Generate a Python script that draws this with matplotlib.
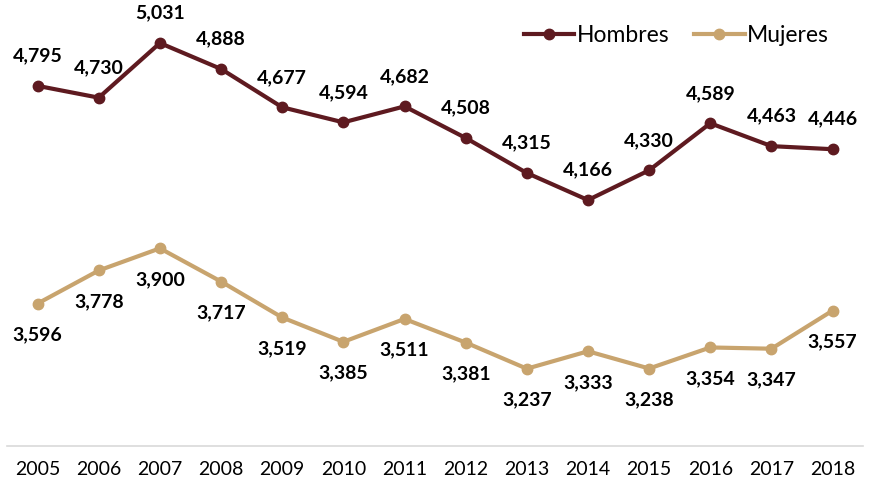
import matplotlib
matplotlib.use("Agg")
import matplotlib.pyplot as plt

years = ["2005", "2006", "2007", "2008", "2009", "2010", "2011", "2012",
         "2013", "2014", "2015", "2016", "2017", "2018"]
hombres = [4795, 4730, 5031, 4888, 4677, 4594, 4682, 4508, 4315, 4166, 4330, 4589, 4463, 4446]
mujeres = [3596, 3778, 3900, 3717, 3519, 3385, 3511, 3381, 3237, 3333, 3238, 3354, 3347, 3557]

c_h = "#5E1A20"
c_m = "#C8A46E"

plt.rcParams["font.family"] = ["Lato", "DejaVu Sans"]

fig = plt.figure(figsize=(8.79, 4.91), dpi=100)
ax = fig.add_axes([0.008, 0.0916, 0.974, 0.9084])

x = list(range(len(years)))
ax.plot(x, hombres, color=c_h, lw=3, marker="o", ms=7.5, label="Hombres")
ax.plot(x, mujeres, color=c_m, lw=3, marker="o", ms=7.5, label="Mujeres")

for i, v in enumerate(hombres):
    ax.annotate(f"{v:,}", (i, v), xytext=(0, 30), textcoords="offset pixels",
                ha="center", va="center", fontsize=14, fontweight="bold")
for i, v in enumerate(mujeres):
    ax.annotate(f"{v:,}", (i, v), xytext=(0, -31), textcoords="offset pixels",
                ha="center", va="center", fontsize=14, fontweight="bold")

ax.set_xlim(-0.5, len(years) - 0.5)
ax.set_ylim(2811, 5268)
ax.set_xticks(x)
ax.set_xticklabels(years, fontsize=14)
ax.tick_params(axis="x", length=0, pad=11)
ax.set_yticks([])
for s in ["top", "left", "right"]:
    ax.spines[s].set_visible(False)
ax.spines["bottom"].set_color("#D9D9D9")
ax.spines["bottom"].set_linewidth(1.2)

ax.legend(loc="upper right", bbox_to_anchor=(0.984, 0.99), ncol=2, frameon=False,
          fontsize=16.5, handlelength=2.2, handletextpad=0.1, columnspacing=1.1)

fig.savefig("out.png", dpi=100)
